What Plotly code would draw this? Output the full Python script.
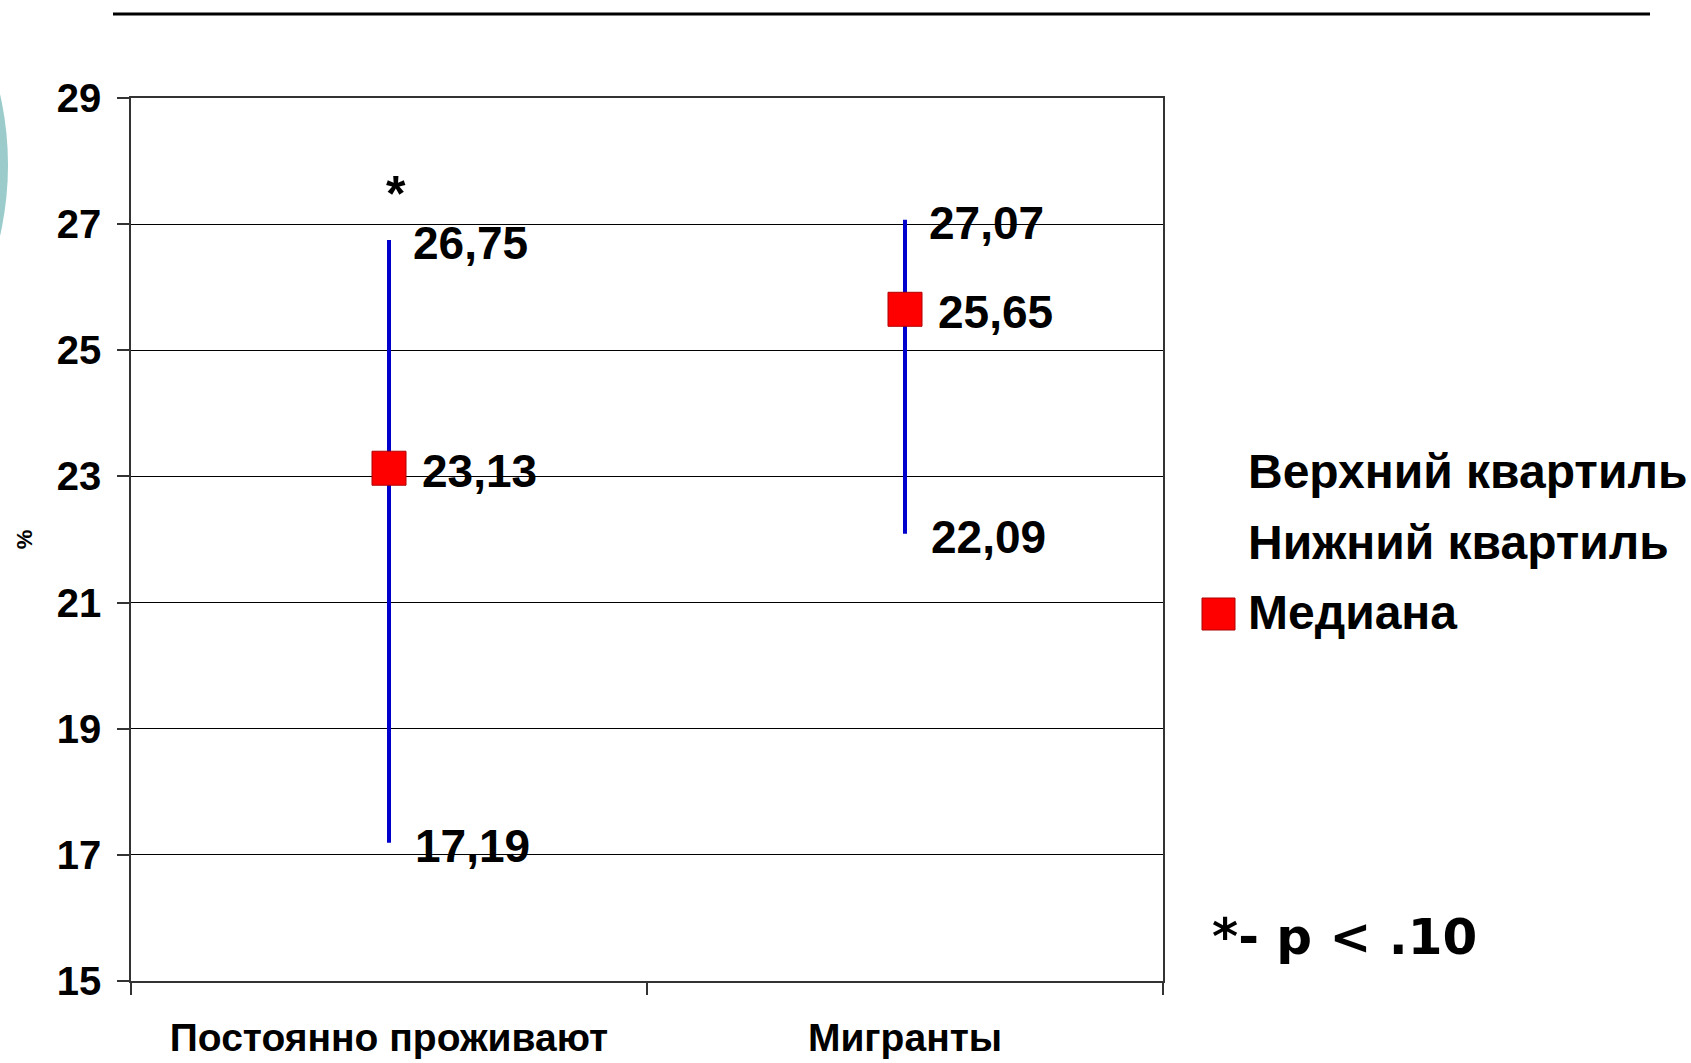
import plotly.graph_objects as go

# ---- data ----
categories = ["Постоянно проживают", "Мигранты"]
upper_q = [26.75, 27.07]
lower_q = [17.19, 22.09]
median = [23.13, 25.65]
y_ticks = [15, 17, 19, 21, 23, 25, 27, 29]
legend_names = ["Верхний квартиль", "Нижний квартиль", "Медиана"]
note_text = "*- p < .10"
star_text = "*"
y_title = "%"


def fmt(v):
    return f"{v:.2f}".replace(".", ",")


W, H = 1691, 1063
L, R, T, B = 131, 528, 98, 82
PW = W - L - R
PH = H - T - B


def px(xp):
    return (xp - L) / PW


def py(yp):
    return (H - B - yp) / PH


ARIAL = "Liberation Sans, Arial, sans-serif"
NARROW = "Liberation Sans Narrow, Arial Narrow, Liberation Sans, Arial, sans-serif"
LABEL_FONT = dict(family=ARIAL, size=46, color="black", weight="bold")

fig = go.Figure()

# high-low lines
hx, hy = [], []
for c, lo, hi in zip(categories, lower_q, upper_q):
    hx += [c, c, None]
    hy += [lo, hi, None]
fig.add_trace(go.Scatter(x=hx, y=hy, mode="lines",
                         line=dict(color="#0000CC", width=4),
                         hoverinfo="skip", showlegend=False))

# upper / lower quartiles (no visible marker)
fig.add_trace(go.Scatter(x=categories, y=upper_q, mode="markers", name=legend_names[0],
                         marker=dict(size=10, color="rgba(0,0,0,0)"), showlegend=False))
fig.add_trace(go.Scatter(x=categories, y=lower_q, mode="markers", name=legend_names[1],
                         marker=dict(size=10, color="rgba(0,0,0,0)"), showlegend=False))
# median
fig.add_trace(go.Scatter(x=categories, y=median, mode="markers", name=legend_names[2],
                         marker=dict(size=34, symbol="square", color="#FF0000",
                                     line=dict(color="#B00000", width=1)),
                         showlegend=False))

annotations = []
# data labels
for series, shift in ((upper_q, 22), (lower_q, 24), (median, 31)):
    for c, v in zip(categories, series):
        annotations.append(dict(x=c, y=v, xref="x", yref="y", text=fmt(v),
                                showarrow=False, xanchor="left", yanchor="middle",
                                xshift=shift, yshift=-3, font=LABEL_FONT))
# significance star above first group
annotations.append(dict(x=categories[0], y=upper_q[0], xref="x", yref="y",
                        text=star_text, showarrow=False, xshift=7, yshift=46,
                        font=dict(family=ARIAL, size=50, color="black", weight="bold")))
# legend as annotations
legend_rows_y = [471, 542, 612]
for name, yy in zip(legend_names, legend_rows_y):
    annotations.append(dict(x=px(1246), y=py(yy), xref="paper", yref="paper",
                            xanchor="left", yanchor="middle", text=name, showarrow=False,
                            font=dict(family=ARIAL, size=48, color="black", weight="bold")))
# note
annotations.append(dict(x=px(1210), y=py(937), xref="paper", yref="paper",
                        xanchor="left", yanchor="middle", text=note_text, showarrow=False,
                        font=dict(family="DejaVu Sans, Verdana, sans-serif", size=50,
                                  color="black", weight="bold")))

shapes = [
    # decorative teal circle at the left edge
    dict(type="circle", xref="paper", yref="paper",
         x0=px(-633), x1=px(8), y0=py(485), y1=py(-155),
         fillcolor="#9BCBCB", line=dict(width=0), layer="above"),
    # top rule
    dict(type="line", xref="paper", yref="paper",
         x0=px(113), x1=px(1650), y0=py(14), y1=py(14),
         line=dict(color="black", width=3)),
    # legend square for median
    dict(type="rect", xref="paper", yref="paper",
         x0=px(1202), x1=px(1235), y0=py(630), y1=py(598),
         fillcolor="#FF0000", line=dict(color="#B00000", width=1)),
]

fig.update_layout(
    width=W, height=H,
    margin=dict(l=L, r=R, t=T, b=B, autoexpand=False),
    paper_bgcolor="white", plot_bgcolor="white",
    showlegend=False,
    annotations=annotations, shapes=shapes,
    font=dict(family=ARIAL, color="black"),
)
fig.update_xaxes(type="category", range=[-0.5, 1.5],
                 showline=True, linecolor="#333333", linewidth=1.5, mirror=True,
                 showgrid=False, zeroline=False,
                 ticks="outside", tickson="boundaries", ticklen=12, tickcolor="#333333",
                 tickwidth=1.5, ticklabelstandoff=21,
                 tickfont=dict(family=NARROW, size=39, color="black", weight="bold"),
                 automargin=False)
fig.update_yaxes(range=[15, 29], tickvals=y_ticks,
                 showline=True, linecolor="#333333", linewidth=1.5, mirror=True,
                 showgrid=True, gridcolor="black", gridwidth=1, zeroline=False,
                 ticks="outside", ticklen=12, tickcolor="#333333", tickwidth=1.5,
                 ticklabelstandoff=8,
                 tickfont=dict(family=ARIAL, size=40, color="black", weight="bold"),
                 title=dict(text=y_title, standoff=18,
                            font=dict(family=ARIAL, size=22, color="black", weight="bold")),
                 automargin=False)

fig.write_html("out.html",
               config={"displayModeBar": False},
               post_script="document.body.style.margin='0';document.body.style.overflow='hidden';")
